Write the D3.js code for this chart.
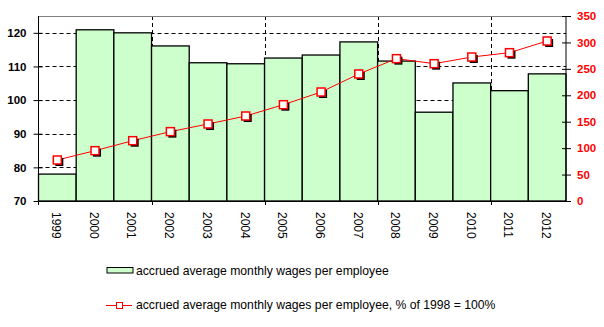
<!DOCTYPE html>
<html>
<head>
<meta charset="utf-8">
<script src="https://cdn.jsdelivr.net/npm/d3@7"></script>
<style>
  html, body { margin: 0; padding: 0; background: #fff; }
  svg { display: block; font-family: Arial, "Liberation Sans", sans-serif; }
</style>
</head>
<body>
<svg id="chart" width="604" height="327"></svg>
<script>
// Years on the category axis
const years = ["1999","2000","2001","2002","2003","2004","2005","2006","2007","2008","2009","2010","2011","2012"];
// Accrued average monthly wages per employee (left axis, % of previous year)
const wages = [78.0, 120.9, 120.0, 116.1, 111.1, 110.8, 112.5, 113.4, 117.3, 111.6, 96.4, 105.1, 102.8, 107.8];
// Same series as % of 1998 = 100% (right axis)
const wagesIndex = [77.6, 95.2, 114.1, 131.2, 145.7, 160.8, 182.2, 206.2, 240.3, 269.3, 259.8, 272.4, 280.6, 302.7];
// Axis tick values
const leftTicks = [70, 80, 90, 100, 110, 120];
const rightTicks = [0, 50, 100, 150, 200, 250, 300, 350];
const gridValues = [80, 90, 100, 110, 120];
const legendLabels = [
  "accrued average monthly wages per employee",
  "accrued average monthly wages per employee, % of 1998 = 100%"
];

const svg = d3.select("#chart");
const plot = { left: 38.5, right: 566, top: 16, bottom: 201 };

const x = d3.scaleBand().domain(years).range([plot.left, plot.right]).padding(0);
const yL = d3.scaleLinear().domain([70, 125]).range([plot.bottom, plot.top]);
const yR = d3.scaleLinear().domain([0, 350]).range([plot.bottom, plot.top]);

// Dashed gridlines (horizontal from left axis, vertical every third year)
const grid = svg.append("g").attr("stroke", "#000").attr("stroke-width", 1).attr("stroke-dasharray", "4,3");
grid.selectAll("line.h").data(gridValues).join("line")
  .attr("x1", plot.left).attr("x2", plot.right)
  .attr("y1", d => Math.round(yL(d)) + 0.5).attr("y2", d => Math.round(yL(d)) + 0.5);
const vIdx = [3, 6, 9, 12];
grid.selectAll("line.v").data(vIdx).join("line")
  .attr("x1", i => Math.round(x(years[i])) + 0.5).attr("x2", i => Math.round(x(years[i])) + 0.5)
  .attr("y1", plot.top).attr("y2", plot.bottom);

// Bars
svg.append("g").selectAll("rect").data(years).join("rect")
  .attr("x", d => x(d))
  .attr("width", x.bandwidth())
  .attr("y", (d, i) => yL(wages[i]))
  .attr("height", (d, i) => plot.bottom - yL(wages[i]))
  .attr("fill", "#ccffcc")
  .attr("stroke", "#000")
  .attr("stroke-width", 1.3);

// Line series
const cx = d => x(d) + x.bandwidth() / 2;
svg.append("path")
  .datum(years)
  .attr("fill", "none")
  .attr("stroke", "#ff0000")
  .attr("stroke-width", 1)
  .attr("d", d3.line().x(cx).y((d, i) => yR(wagesIndex[i])));

// Markers with drop shadow
const ms = 8;
const mk = svg.append("g");
mk.selectAll("rect.shadow").data(years).join("rect")
  .attr("x", d => cx(d) - ms / 2 + 2).attr("y", (d, i) => yR(wagesIndex[i]) - ms / 2 + 2)
  .attr("width", ms).attr("height", ms).attr("fill", "#000");
mk.selectAll("rect.mark").data(years).join("rect")
  .attr("x", d => cx(d) - ms / 2).attr("y", (d, i) => yR(wagesIndex[i]) - ms / 2)
  .attr("width", ms).attr("height", ms)
  .attr("fill", "#fff").attr("stroke", "#ff0000").attr("stroke-width", 1.5);

// Top border of the plot area
svg.append("line").attr("x1", plot.left).attr("x2", plot.right)
  .attr("y1", plot.top + 0.5).attr("y2", plot.top + 0.5)
  .attr("stroke", "#808080").attr("stroke-width", 1);

// Left axis
const gL = svg.append("g").attr("transform", `translate(${plot.left},0)`)
  .call(d3.axisLeft(yL).tickValues(leftTicks).tickSize(5).tickPadding(7));
gL.select(".domain").remove();
gL.selectAll(".tick line").attr("x1", 4).attr("stroke", "#000");
gL.append("line").attr("x1", 0).attr("x2", 0).attr("y1", plot.top).attr("y2", plot.bottom + 4).attr("stroke", "#000");
gL.selectAll(".tick text")
  .attr("font-size", 11.5).attr("font-weight", "bold").attr("fill", "#000")
  .attr("font-family", "Arial, 'Liberation Sans', sans-serif");

// Right axis
const gR = svg.append("g").attr("transform", `translate(${plot.right},0)`)
  .call(d3.axisRight(yR).tickValues(rightTicks).tickSize(5).tickPadding(6));
gR.select(".domain").remove();
gR.selectAll(".tick line").attr("x1", -4).attr("stroke", "#000");
gR.append("line").attr("x1", 0).attr("x2", 0).attr("y1", plot.top).attr("y2", plot.bottom).attr("stroke", "#000");
gR.selectAll(".tick text")
  .attr("font-size", 11.5).attr("font-weight", "bold").attr("fill", "#ff0000")
  .attr("font-family", "Arial, 'Liberation Sans', sans-serif");

// Bottom axis: long ticks every third year
svg.append("line").attr("x1", plot.left - 4).attr("x2", plot.right)
  .attr("y1", plot.bottom + 0.5).attr("y2", plot.bottom + 0.5).attr("stroke", "#000");
svg.append("g").selectAll("line").data(vIdx).join("line")
  .attr("x1", i => Math.round(x(years[i])) + 0.5).attr("x2", i => Math.round(x(years[i])) + 0.5)
  .attr("y1", plot.bottom).attr("y2", plot.bottom + 4).attr("stroke", "#000");

// Rotated year labels
svg.append("g").selectAll("text").data(years).join("text")
  .attr("transform", d => `translate(${cx(d) - 1},${plot.bottom + 11}) rotate(90)`)
  .attr("dy", "0.35em")
  .attr("text-anchor", "start")
  .attr("font-size", 12)
  .attr("fill", "#000")
  .text(d => d);

// Legend
const lg = svg.append("g");
lg.append("rect").attr("x", 107).attr("y", 267.5).attr("width", 26).attr("height", 5.5)
  .attr("fill", "#ccffcc").attr("stroke", "#000").attr("stroke-width", 1);
lg.append("text").attr("x", 136).attr("y", 274.5).attr("font-size", 12.2).attr("fill", "#000").text(legendLabels[0]);
lg.append("line").attr("x1", 106).attr("x2", 132).attr("y1", 305.5).attr("y2", 305.5)
  .attr("stroke", "#ff0000").attr("stroke-width", 1);
lg.append("rect").attr("x", 116.5).attr("y", 302.5).attr("width", 6).attr("height", 6)
  .attr("fill", "#fff").attr("stroke", "#ff0000").attr("stroke-width", 1);
lg.append("text").attr("x", 136).attr("y", 308.5).attr("font-size", 12.2).attr("fill", "#000").text(legendLabels[1]);
</script>
</body>
</html>
